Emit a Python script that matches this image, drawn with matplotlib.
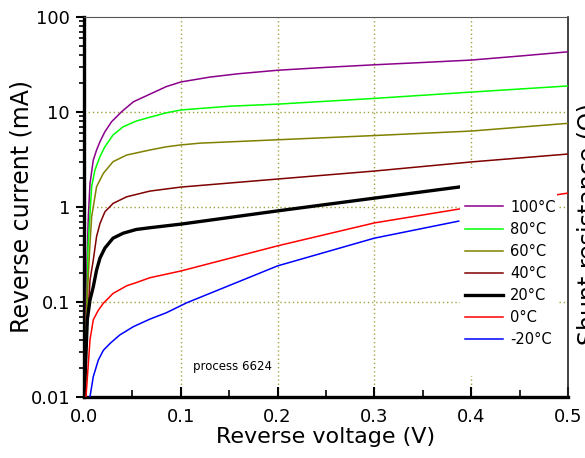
import numpy as np
import matplotlib
matplotlib.use('Agg')
import matplotlib.pyplot as plt
from matplotlib.patches import Rectangle
from matplotlib.ticker import FixedLocator, FuncFormatter, LogLocator, NullFormatter

# ── data (V in volts, I in mA) ────────────────────────────────────────────────
v_100 = [0.001, 0.003, 0.0045, 0.0062, 0.0096, 0.013, 0.0165, 0.0216, 0.0285, 0.039,
         0.051, 0.068, 0.085, 0.1, 0.13, 0.16, 0.2, 0.25, 0.3, 0.35, 0.4, 0.45, 0.5]
i_100 = [0.01, 0.25, 0.8, 1.77, 3.12, 3.98, 4.87, 6.2, 7.9, 10.1,
         12.8, 15.4, 18.5, 20.7, 23.3, 25.3, 27.5, 29.5, 31.4, 33.2, 35.2, 38.8, 43]

v_80 = [0.0015, 0.0041, 0.0079, 0.0113, 0.0165, 0.0216, 0.030, 0.0405, 0.054, 0.068,
        0.085, 0.1, 0.15, 0.2, 0.3, 0.4, 0.5]
i_80 = [0.01, 0.37, 1.64, 2.45, 3.39, 4.31, 5.73, 7.0, 8.03, 8.8,
        9.8, 10.5, 11.5, 12.1, 13.9, 16.2, 18.8]

v_60 = [0.0012, 0.0024, 0.0059, 0.0079, 0.013, 0.02, 0.030, 0.044, 0.068, 0.085,
        0.1, 0.12, 0.2, 0.3, 0.4, 0.5]
i_60 = [0.01, 0.073, 0.37, 0.79, 1.64, 2.26, 3.0, 3.52, 3.98, 4.3,
        4.5, 4.7, 5.1, 5.65, 6.3, 7.6]

v_40 = [0.0005, 0.001, 0.0027, 0.0062, 0.0096, 0.013, 0.0165, 0.0216, 0.030, 0.044,
        0.068, 0.1, 0.2, 0.3, 0.4, 0.5]
i_40 = [0.01, 0.015, 0.043, 0.17, 0.277, 0.49, 0.67, 0.89, 1.09, 1.28,
        1.47, 1.62, 1.97, 2.39, 2.98, 3.61]

v_20 = [0.0005, 0.001, 0.0034, 0.0062, 0.0096, 0.013, 0.0165, 0.0216, 0.030, 0.0405,
        0.054, 0.068, 0.1, 0.2, 0.3, 0.387]
i_20 = [0.01, 0.015, 0.065, 0.105, 0.145, 0.217, 0.29, 0.37, 0.47, 0.53,
        0.58, 0.605, 0.66, 0.91, 1.24, 1.62]

v_0 = [0.002, 0.0045, 0.0062, 0.0096, 0.0148, 0.02, 0.030, 0.044, 0.054, 0.068,
       0.1, 0.2, 0.3, 0.387, 0.5]
i_0 = [0.0099, 0.0226, 0.040, 0.065, 0.082, 0.097, 0.123, 0.148, 0.16, 0.18,
       0.212, 0.39, 0.68, 0.95, 1.40]

v_m20 = [0.006, 0.0096, 0.0148, 0.02, 0.027, 0.037, 0.051, 0.068, 0.085, 0.106,
         0.2, 0.3, 0.387]
i_m20 = [0.0098, 0.0164, 0.0245, 0.031, 0.0367, 0.045, 0.055, 0.066, 0.077, 0.098,
         0.24, 0.47, 0.71]

labels = ['100°C', '80°C', '60°C', '40°C', '20°C', '0°C', '-20°C']
colors = ['#8b008b', '#00ff00', '#808000', '#800000', '#000000', '#ff0000', '#0000ff']
widths = [1.1, 1.1, 1.1, 1.1, 2.4, 1.1, 1.1]

x_ticks = [0.0, 0.1, 0.2, 0.3, 0.4, 0.5]
y_ticks = [0.01, 0.1, 1, 10, 100]
y_ticklabels = ['0.01', '0.1', '1', '10', '100']

series = [(v_100, i_100), (v_80, i_80), (v_60, i_60), (v_40, i_40),
          (v_20, i_20), (v_0, i_0), (v_m20, i_m20)]

# ── figure ────────────────────────────────────────────────────────────────────
fig = plt.figure(figsize=(5.85, 4.58), dpi=100)
ax = fig.add_axes([0.1436, 0.1332, 0.8274, 0.8297])

handles = []
for (v, i), lab, c, lw in zip(series, labels, colors, widths):
    h, = ax.plot(v, i, color=c, lw=lw, label=lab, zorder=3)
    handles.append(h)

ax.set_yscale('log')
ax.set_xlim(0, 0.5)
ax.set_ylim(0.01, 100)

grid_c = '#a3a33c'
for x in [0.1, 0.2, 0.3, 0.4]:
    ax.axvline(x, color=grid_c, ls=(0, (1, 2)), lw=1, zorder=1)
for y in [0.1, 1, 10]:
    ax.axhline(y, color=grid_c, ls=(0, (1, 2)), lw=1, zorder=1)

# ticks
ax.xaxis.set_major_locator(FixedLocator(x_ticks))
ax.xaxis.set_minor_locator(FixedLocator([0.05, 0.15, 0.25, 0.35, 0.45]))
ax.xaxis.set_major_formatter(FuncFormatter(lambda x, p: f'{x:.1f}'))
ax.yaxis.set_major_locator(FixedLocator(y_ticks))
ax.yaxis.set_major_formatter(FuncFormatter(
    lambda y, p: y_ticklabels[y_ticks.index(y)] if y in y_ticks else ''))
ax.yaxis.set_minor_locator(LogLocator(base=10, subs=np.arange(2, 10), numticks=20))
ax.yaxis.set_minor_formatter(NullFormatter())

ax.tick_params(axis='x', which='major', direction='in', length=7, width=1.5,
               labelsize=13, pad=8)
ax.tick_params(axis='x', which='minor', direction='in', length=5, width=1.2)
ax.tick_params(axis='y', which='major', direction='out', length=6, width=1.5,
               labelsize=13, pad=4)
ax.tick_params(axis='y', which='minor', direction='out', length=3.5, width=1.2)

for s in ['left', 'bottom']:
    ax.spines[s].set_linewidth(2.4)
    ax.spines[s].set_color('black')
ax.spines['top'].set_linewidth(0.8)
ax.spines['top'].set_color('#555555')
ax.spines['right'].set_linewidth(1.2)
ax.spines['right'].set_color('#222222')

ax.set_xlabel('Reverse voltage (V)', fontsize=16, labelpad=1)
ax.set_ylabel('Reverse current (mA)', fontsize=17)
ax.yaxis.set_label_coords(-0.105, 0.5)

# white box behind the legend (hides lines and grid there)
ax.add_patch(Rectangle((0.777, 0.055), 0.2, 0.548, transform=ax.transAxes,
                       facecolor='white', edgecolor='none', zorder=4))
leg = ax.legend(handles=handles, loc='upper left', bbox_to_anchor=(0.775, 0.535),
                frameon=False, fontsize=10.5, handlelength=2.6, handletextpad=0.5,
                labelspacing=0.49, borderaxespad=0)
leg.set_zorder(5)

ax.text(0.113, 0.0207, 'process 6624', fontsize=8.5, ha='left', va='center', zorder=5)

# right-hand axis label, clipped by the figure edge as in the original
fig.text(0.985, 0.51, 'Shunt resistance (Ω)', rotation=90, fontsize=17,
         ha='left', va='center')

fig.savefig('out.png', dpi=100)
